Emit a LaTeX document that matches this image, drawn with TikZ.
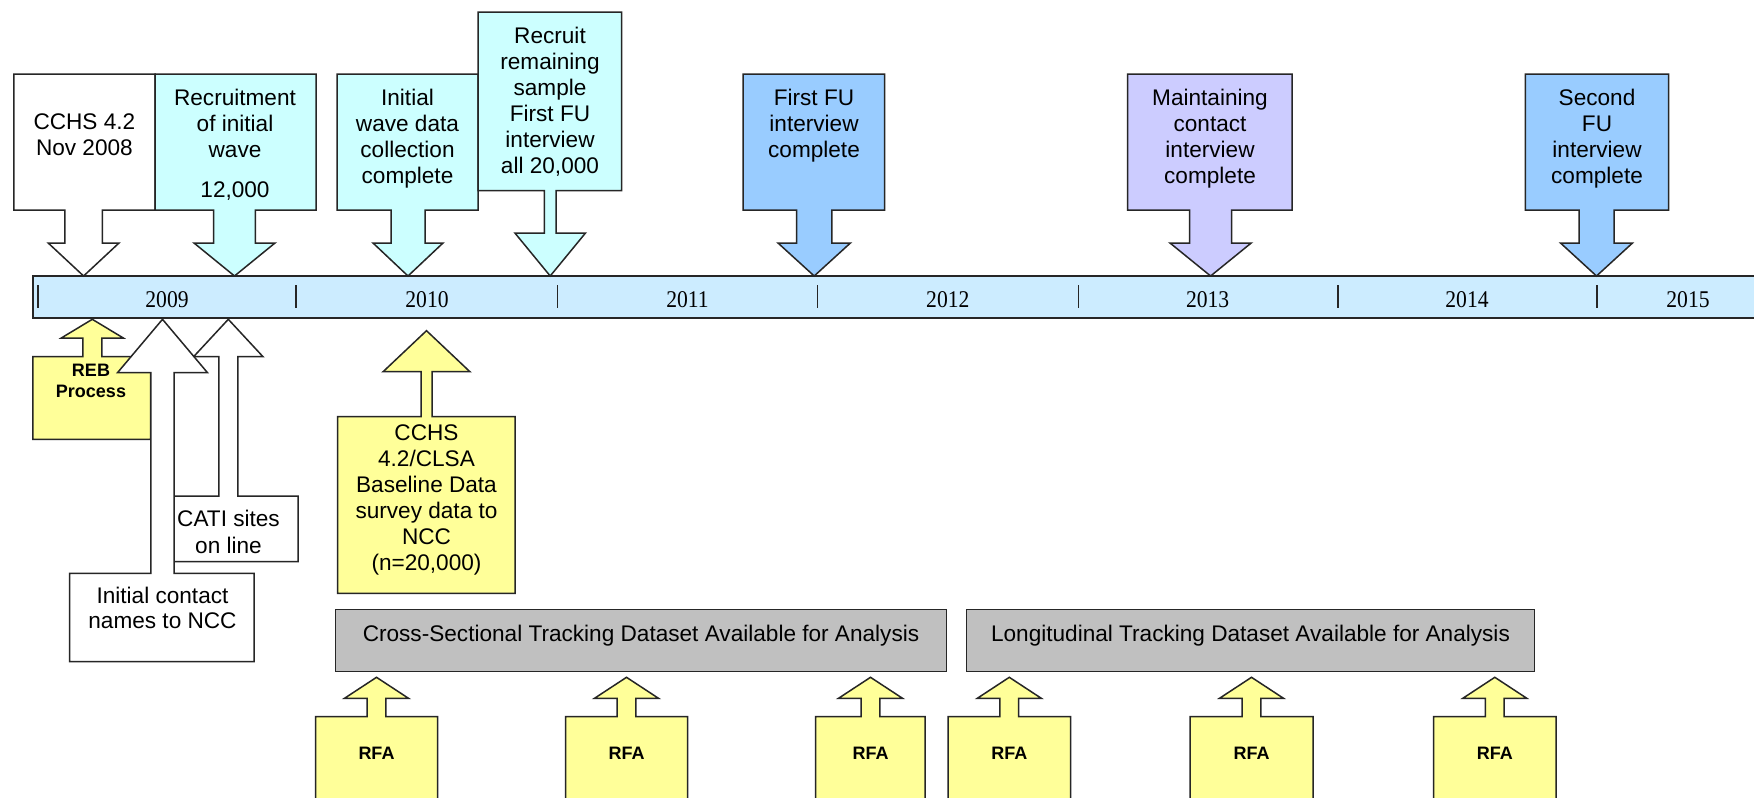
\documentclass[tikz,border=0pt]{standalone}
\usepackage{fontspec}
\setmainfont{Liberation Sans}
\newfontfamily\seriffont{Liberation Serif}
\definecolor{cyanfill}{HTML}{CCFFFF}
\definecolor{fufill}{HTML}{99CCFF}
\definecolor{lavfill}{HTML}{CCCCFF}
\definecolor{barfill}{HTML}{CCECFF}
\definecolor{yelfill}{HTML}{FFFF99}
\definecolor{grayfill}{HTML}{C0C0C0}
\definecolor{edge}{HTML}{262626}
\tikzset{
  shapebox/.style={draw=edge, line width=1.5pt, line join=miter},
  whitebox/.style={shapebox, fill=white},
  cyanbox/.style={shapebox, fill=cyanfill},
  fubox/.style={shapebox, fill=fufill},
  lavbox/.style={shapebox, fill=lavfill},
  yelbox/.style={shapebox, fill=yelfill},
  graybox/.style={shapebox, fill=grayfill},
  lbl/.style={font=\fontsize{22.6}{26}\selectfont, align=center, inner sep=0pt, anchor=north},
  blbl/.style={font=\bfseries\fontsize{18}{21.7}\selectfont, align=center, inner sep=0pt, anchor=north},
  rfalbl/.style={font=\bfseries\fontsize{18}{21.7}\selectfont, inner sep=0pt, anchor=base},
  yr/.style={font=\seriffont\fontsize{24}{24}\selectfont, inner sep=0pt, anchor=base},
  tick/.style={draw=edge, line width=1.6pt},
}
% #1 style, #2 x1, #3 x2, #4 far edge y, #5 near edge y, #6 centre x, #7 shaft half width, #8 head half width, #9 head base y; tip y = \tipy
\newcommand\mycallout[9]{%
  \path[#1] (#2,#4) -- (#3,#4) -- (#3,#5) -- ({#6+#7},#5) -- ({#6+#7},#9) -- ({#6+#8},#9)
    -- (#6,\tipy) -- ({#6-#8},#9) -- ({#6-#7},#9) -- ({#6-#7},#5) -- (#2,#5) -- cycle;}
\begin{document}
\begin{tikzpicture}[x=1pt,y=-1pt]
\useasboundingbox (0,0) rectangle (1754,798);
\clip (0,0) rectangle (1754,798);
\fill[white] (0,0) rectangle (1754,798);

% timeline bar
\draw[fill=barfill, draw=edge, line width=2pt] (32.5,276) rectangle (1780,318.3);
\foreach \t in {38,296,557.6,817.5,1078.6,1337.7,1597}
  \draw[tick] (\t,285) -- (\t,308.3);
\node[yr] (y2009) at (167,307.1) {\scalebox{0.9}[1]{2009}};
\node[yr] (y2010) at (427,307.1) {\scalebox{0.9}[1]{2010}};
\node[yr] (y2011) at (687.5,307.1) {\scalebox{0.9}[1]{2011}};
\node[yr] (y2012) at (947.8,307.1) {\scalebox{0.9}[1]{2012}};
\node[yr] (y2013) at (1207.6,307.1) {\scalebox{0.9}[1]{2013}};
\node[yr] (y2014) at (1467,307.1) {\scalebox{0.9}[1]{2014}};
\node[yr] (y2015) at (1688,307.1) {\scalebox{0.9}[1]{2015}};

% top callouts
\def\tipy{276}
\mycallout{whitebox}{13.8}{155}{74}{210}{83.6}{18.8}{35.4}{243}
\mycallout{cyanbox}{155}{316}{74}{210}{234.5}{20.8}{40.5}{243}
\mycallout{cyanbox}{337}{478}{74}{210}{408}{17}{35}{243}
\mycallout{cyanbox}{478}{621.7}{12}{190.7}{550.2}{5.8}{35.3}{233}
\mycallout{fubox}{743}{884.6}{74}{210}{814.2}{17.7}{36.2}{243}
\mycallout{lavbox}{1127.5}{1292}{74}{210}{1210.6}{21}{40.6}{243}
\mycallout{fubox}{1525.4}{1668.5}{74}{210}{1596.5}{17.5}{36}{243}

\node[lbl] (cchs) at (84.4,113.6) {CCHS 4.2\\Nov 2008};
\node[lbl] (recruit) at (235,88.6) {Recruitment\\of initial\\wave\\[14pt]12,000};
\node[lbl] (initwave) at (407.5,88.6) {Initial\\wave data\\collection\\complete};
\node[lbl] (remain) at (550,26.9) {Recruit\\remaining\\sample\\First FU\\interview\\all 20,000};
\node[lbl] (firstfu) at (814,88.6) {First FU\\interview\\complete};
\node[lbl] (maint) at (1210,88.6) {Maintaining\\contact\\interview\\complete};
\node[lbl] (secondfu) at (1597,88.6) {Second\\FU\\interview\\complete};

% bottom callouts
\def\tipy{319.3}
\mycallout{yelbox}{32.9}{150.7}{439.3}{356.7}{92.3}{9.5}{31}{338}
\mycallout{whitebox}{174}{298}{561.7}{496}{228.3}{9.5}{34.7}{356.7}
\mycallout{whitebox}{69.6}{254}{661.7}{573.3}{162.5}{11.6}{45}{372.7}
\def\tipy{330.7}
\mycallout{yelbox}{337.5}{515}{593.3}{416.7}{426.5}{5.5}{43.4}{371.7}

\node[blbl] (reb) at (91,363.6) {REB\\Process};
\node[lbl] (cati) at (228.5,509.9) {CATI sites\\[1pt]on line};
\node[lbl] (contact) at (162.5,586.9) {Initial contact\\[-1pt]names to NCC};
\node[lbl] (clsa) at (426.5,424.9) {CCHS\\4.2/CLSA\\Baseline Data\\survey data to\\NCC\\(n=20,000)};

% datasets
\path[graybox] (335.7,609.3) rectangle (946.4,671.7);
\path[graybox] (966.4,609.3) rectangle (1534.6,671.7);
\node[lbl] (cross) at (641,625.2) {Cross-Sectional Tracking Dataset Available for Analysis};
\node[lbl] (longi) at (1250.5,625.2) {Longitudinal Tracking Dataset Available for Analysis};

% RFA callouts
\def\tipy{677.3}
\mycallout{yelbox}{315.6}{437.5}{815}{716.7}{376.5}{9.4}{32}{698.3}
\mycallout{yelbox}{565.6}{687.5}{815}{716.7}{626.5}{9.4}{32}{698.3}
\mycallout{yelbox}{815.6}{925}{815}{716.7}{870.5}{9.4}{32}{698.3}
\mycallout{yelbox}{948.2}{1070.5}{815}{716.7}{1009.3}{9.4}{32}{698.3}
\mycallout{yelbox}{1190}{1313}{815}{716.7}{1251.5}{9.4}{32}{698.3}
\mycallout{yelbox}{1433.6}{1556}{815}{716.7}{1494.8}{9.4}{32}{698.3}
\node[rfalbl] (rfa1) at (376.5,759.7) {RFA};
\node[rfalbl] (rfa2) at (626.5,759.7) {RFA};
\node[rfalbl] (rfa3) at (870.5,759.7) {RFA};
\node[rfalbl] (rfa4) at (1009.3,759.7) {RFA};
\node[rfalbl] (rfa5) at (1251.5,759.7) {RFA};
\node[rfalbl] (rfa6) at (1494.8,759.7) {RFA};
\end{tikzpicture}
\end{document}
